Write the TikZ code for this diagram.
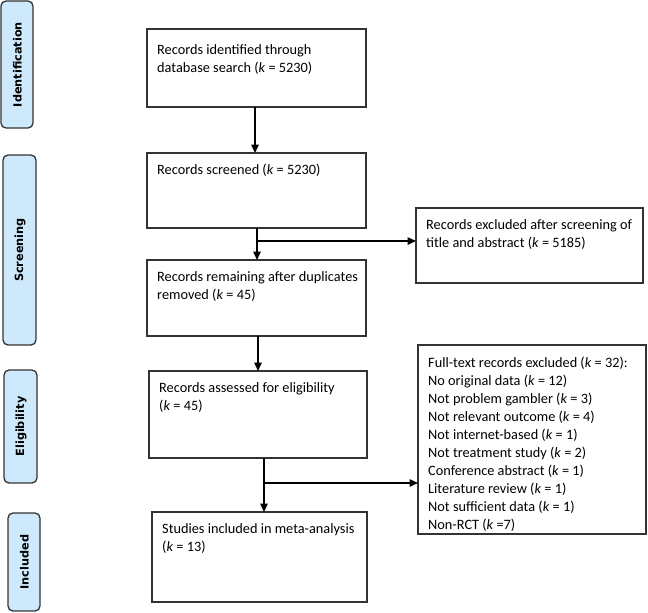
\documentclass[tikz,border=0pt]{standalone}
\usepackage{fontspec}
\setmainfont{Carlito}
\newfontfamily\tabfont{DejaVu Sans}
\usetikzlibrary{arrows.meta}
\definecolor{tabblue}{RGB}{206,233,252}
\definecolor{edge}{RGB}{51,51,51}
\begin{document}
\begin{tikzpicture}[x=1pt,y=-1pt,
  box/.style={draw=edge,line width=1.3pt,fill=white},
  txt/.style={anchor=north west,inner sep=0pt,align=left,font=\fontsize{14.3}{18}\selectfont},
  tab/.style={draw=edge,line width=1.3pt,fill=tabblue,rounded corners=5pt},
  tabtxt/.style={rotate=90,font=\tabfont\bfseries\fontsize{11.3}{14}\selectfont},
  arr/.style={line width=1.5pt,-{Triangle[length=8.5pt,width=7.5pt]}}]
\useasboundingbox (0,0) rectangle (648,613);
% side tabs
\draw[tab] (1,1) rectangle (33,128);
\node[tabtxt] (t1) at (17.5,64.5) {Identification};
\draw[tab] (3,155) rectangle (36,345);
\node[tabtxt] (t2) at (20,250) {Screening};
\draw[tab] (4,370) rectangle (37,483);
\node[tabtxt] (t3) at (21,426.5) {Eligibility};
\draw[tab] (8,513) rectangle (40,611);
\node[tabtxt] (t4) at (24.5,562) {Included};
% boxes
\draw[box] (147,29) rectangle (366,107);
\node[txt] (x1) at (157,44) {Records identified through\\database search (\textit{k} = 5230)};
\draw[box] (147,153) rectangle (366,228);
\node[txt] (x2) at (157,164) {Records screened (\textit{k} = 5230)};
\draw[box] (416,208) rectangle (643,283);
\node[txt] (x3) at (426,219) {Records excluded after screening of\\title and abstract (\textit{k} = 5185)};
\draw[box] (147,260) rectangle (366,336);
\node[txt] (x4) at (157,271) {Records remaining after duplicates\\removed (\textit{k} = 45)};
\draw[box] (149,371) rectangle (367,458);
\node[txt] (x5) at (159,382) {Records assessed for eligibility\\(\textit{k} = 45)};
\draw[box] (418,345) rectangle (646,534);
\node[txt] (x6) at (428,357) {Full-text records excluded (\textit{k} = 32):\\
No original data (\textit{k} = 12)\\
Not problem gambler (\textit{k} = 3)\\
Not relevant outcome (\textit{k} = 4)\\
Not internet-based (\textit{k} = 1)\\
Not treatment study (\textit{k} = 2)\\
Conference abstract (\textit{k} = 1)\\
Literature review (\textit{k} = 1)\\
Not sufficient data (\textit{k} = 1)\\
Non-RCT (\textit{k} =7)};
\draw[box] (152,512) rectangle (367,602);
\node[txt] (x7) at (162,523) {Studies included in meta-analysis\\(\textit{k} = 13)};
% connectors
\coordinate (a1) at (255,107); \coordinate (a2) at (255,153);
\draw[arr] (a1) -- (a2);
\coordinate (a3) at (257,228); \coordinate (a4) at (257,260);
\draw[arr] (a3) -- (a4);
\coordinate (j1) at (257,241); \coordinate (e1) at (416,241);
\draw[arr] (j1) -- (e1);
\coordinate (a5) at (258,336); \coordinate (a6) at (258,371);
\draw[arr] (a5) -- (a6);
\coordinate (a7) at (264,458); \coordinate (a8) at (264,512);
\draw[arr] (a7) -- (a8);
\coordinate (j2) at (264,483); \coordinate (e2) at (418,483);
\draw[arr] (j2) -- (e2);
\end{tikzpicture}
\end{document}
